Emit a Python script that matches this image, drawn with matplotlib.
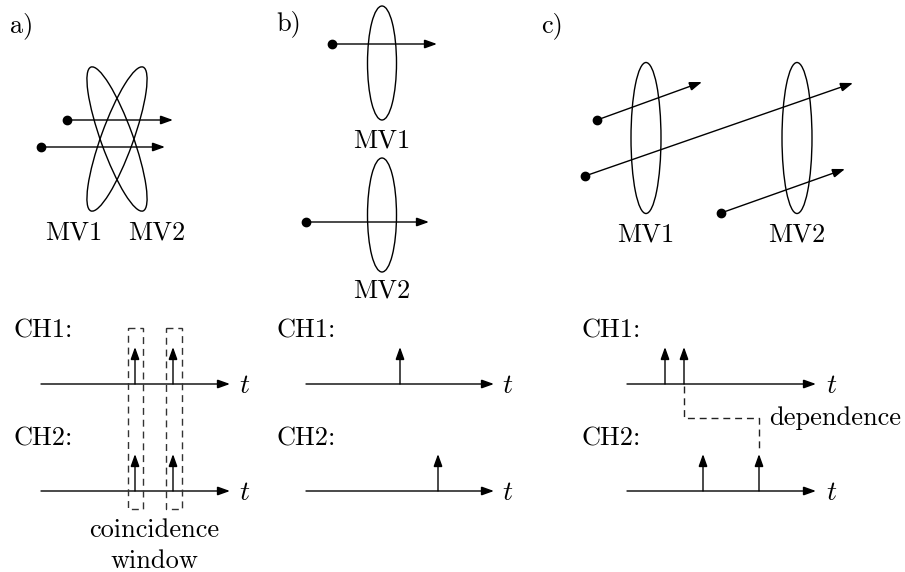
import matplotlib
matplotlib.use("Agg")
import matplotlib.pyplot as plt
from matplotlib.patches import Ellipse, Rectangle, FancyArrowPatch

plt.rcParams['mathtext.fontset'] = 'cm'
plt.rcParams['axes.unicode_minus'] = False
FONT = 'cmr10'
FS = 19
LW = 1.0

# ---------------- data (pixel-space layout of the diagram) ----------------
panel_labels = ["a)", "b)", "c)"]
panel_label_pos = [(10, 32), (276, 30), (541, 32)]

# panel a: two crossed tilted ellipses
a_ellipses = [(117, 139, 32, 153, 19.9), (117, 139, 32, 153, -19.9)]
a_tracks = [((67, 120), (173, 120)), ((41, 147), (165, 147))]
a_mv_labels = [("MV1", 74, 239), ("MV2", 157, 239)]

# panel b: two separate ellipses
b_ellipses = [(382, 63, 29, 114, 0), (382, 215, 29, 114, 0)]
b_tracks = [((332, 44), (437, 44)), ((306, 222), (429, 222))]
b_mv_labels = [("MV1", 382, 148), ("MV2", 382, 298)]

# panel c: two ellipses, three inclined tracks
c_ellipses = [(646, 138, 30, 151, 0), (797, 138, 30, 151, 0)]
c_tracks = [((597, 120), (702, 82)), ((585, 176), (853, 83)), ((721, 213), (845, 169))]
c_mv_labels = [("MV1", 646, 242), ("MV2", 797, 242)]

# time axes
ch1_y, ch2_y = 384, 491
spike_top1, spike_top2 = 347, 454
time_axes = {
    "a": (41, 230, 245),
    "b": (306, 494, 508),
    "c": (627, 816, 832),
}
ch_label_x = {"a": 13, "b": 276, "c": 581}
ch1_spikes = {"a": [135, 173], "b": [400], "c": [665, 684]}
ch2_spikes = {"a": [135, 173], "b": [438], "c": [703, 759]}

# coincidence windows (x0, x1) and vertical extent
windows = [(128, 143), (166, 182)]
window_y = (328, 509)

# dependence path
dep_path_x = [684, 684, 759, 759]
dep_path_y = [386, 418, 418, 452]

fig = plt.figure(figsize=(9.05, 5.72), dpi=100)
ax = fig.add_axes([0, 0, 1, 1])
ax.set_xlim(0, 905)
ax.set_ylim(572, 0)
ax.axis('off')


def arrow(p0, p1):
    a = FancyArrowPatch(p0, p1, arrowstyle='-|>,head_length=0.75,head_width=0.27',
                        mutation_scale=10, lw=LW, color='black',
                        shrinkA=0, shrinkB=0, joinstyle='miter')
    ax.add_patch(a)


def txt(s, x, y, ha='center', size=FS):
    ax.text(x, y, s, ha=ha, va='baseline', fontsize=size, family=FONT)


for s, (x, y) in zip(panel_labels, panel_label_pos):
    txt(s, x, y, ha='left')

for ells in (a_ellipses, b_ellipses, c_ellipses):
    for (cx, cy, w, h, ang) in ells:
        ax.add_patch(Ellipse((cx, cy), w, h, angle=ang, fill=False, lw=LW, color='black'))

for tracks in (a_tracks, b_tracks, c_tracks):
    for p0, p1 in tracks:
        arrow(p0, p1)
        ax.plot([p0[0]], [p0[1]], 'o', color='black', ms=6, zorder=5)

for labels in (a_mv_labels, b_mv_labels, c_mv_labels):
    for s, x, y in labels:
        txt(s, x, y)

for key, (x0, x1, tx) in time_axes.items():
    for yy, ytop, spikes, lab, lab_y in ((ch1_y, spike_top1, ch1_spikes[key], "CH1:", 338),
                                        (ch2_y, spike_top2, ch2_spikes[key], "CH2:", 445)):
        arrow((x0, yy), (x1, yy))
        ax.text(tx, yy + 9, r'$t$', ha='center', va='baseline', fontsize=FS + 1)
        txt(lab, ch_label_x[key], lab_y, ha='left')
        for sx in spikes:
            arrow((sx, yy), (sx, ytop))

for (wx0, wx1) in windows:
    ax.add_patch(Rectangle((wx0, window_y[0]), wx1 - wx0, window_y[1] - window_y[0],
                           fill=False, lw=LW, edgecolor='#333333', linestyle=(0, (5, 3.5))))

txt("coincidence", 154, 537)
txt("window", 154, 568)

ax.plot(dep_path_x, dep_path_y, color='#222222', lw=LW, linestyle=(0, (5, 3.5)))
txt("dependence", 769, 425, ha='left')

fig.savefig("out.png", dpi=100)
